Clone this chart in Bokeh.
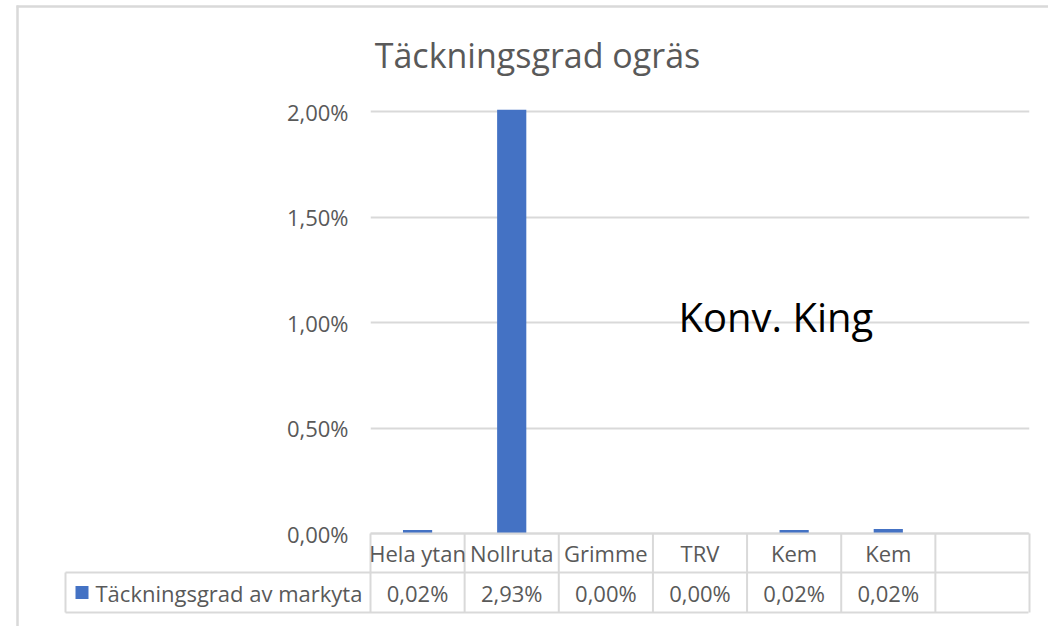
from bokeh.plotting import figure
from bokeh.models import Range1d, FixedTicker, CustomJSTickFormatter, ColumnDataSource
from bokeh.core.properties import value
from bokeh.embed import file_html
from bokeh.resources import INLINE

# ---- data ----
title_text = "Täckningsgrad ogräs"
series_name = "Täckningsgrad av markyta"
annotation_text = "Konv. King"
categories = ["Hela ytan", "Nollruta", "Grimme", "TRV", "Kem", "Kem"]
values = [0.00016, 0.0293, 0.0, 0.0, 0.00016, 0.00021]
y_ticks = [0.0, 0.005, 0.01, 0.015, 0.02]
n_columns = 7  # six categories + one empty column in the data table

# ---- style ----
FONT = "Open Sans"
GRAY_TEXT = "#595959"
LINE = "#d9d9d9"
BAR = "#4472C4"

W, H = 1048, 626
LEFT, TOP = 370, 109
FRAME_W, FRAME_H = 659, 426
PAD = 2  # px of frame above/below the 0..2% span
per_px = 0.02 / (FRAME_H - 2 * PAD)

p = figure(width=W, height=H, output_backend="svg", toolbar_location=None, tools="",
           title=None,
           x_range=Range1d(-0.5, n_columns - 0.5),
           y_range=Range1d(-PAD * per_px, 0.02 + PAD * per_px),
           x_axis_location=None, y_axis_location="left",
           min_border_left=LEFT, min_border_right=W - LEFT - FRAME_W,
           min_border_top=TOP, min_border_bottom=H - TOP - FRAME_H)
p.background_fill_color = "white"
p.border_fill_color = "white"
p.outline_line_color = None

# helper ranges in pixels (origin at frame left / 0% line)
p.extra_x_ranges = {"px": Range1d(0, FRAME_W)}
p.extra_y_ranges = {"px": Range1d(-PAD, FRAME_H - PAD)}

# y axis
p.yaxis.ticker = FixedTicker(ticks=y_ticks)
p.yaxis.formatter = CustomJSTickFormatter(
    code="return (tick*100).toFixed(2).replace('.', ',') + '%';")
p.yaxis.axis_line_color = None
p.yaxis.major_tick_line_color = None
p.yaxis.minor_tick_line_color = None
p.yaxis.major_label_text_font = FONT
p.yaxis.major_label_text_font_size = "22px"
p.yaxis.major_label_text_color = GRAY_TEXT
p.yaxis.major_label_standoff = 16
p.ygrid.ticker = FixedTicker(ticks=y_ticks)
p.ygrid.grid_line_color = LINE
p.ygrid.grid_line_width = 2
p.xgrid.grid_line_color = None

# bars
src = ColumnDataSource(dict(x=list(range(len(categories))), top=values))
p.vbar(x="x", top="top", width=0.31, source=src, fill_color=BAR, line_color=None)

# ---- data table under the plot ----
ROW1 = -39   # line between category row and value row
ROW2 = -79   # bottom of table
LEG_LEFT = -305
TABLE_RIGHT = 658

p.segment(x0=[0, LEG_LEFT, LEG_LEFT], x1=[TABLE_RIGHT] * 3, y0=[0, ROW1, ROW2], y1=[0, ROW1, ROW2],
          x_range_name="px", y_range_name="px", line_color=LINE, line_width=2, level="overlay")
bounds = [i - 0.5 for i in range(n_columns + 1)]
p.segment(x0=bounds, x1=bounds, y0=[0] * len(bounds), y1=[ROW2] * len(bounds),
          y_range_name="px", line_color=LINE, line_width=2, level="overlay")
p.segment(x0=[LEG_LEFT], x1=[LEG_LEFT], y0=[ROW1], y1=[ROW2],
          x_range_name="px", y_range_name="px", line_color=LINE, line_width=2, level="overlay")

p.text(x=list(range(len(categories))), y=[(0 + ROW1) / 2] * len(categories), text=categories,
       y_range_name="px", text_align="center", text_baseline="middle",
       text_font=value(FONT), text_font_size="22px", text_color=GRAY_TEXT, level="overlay")
value_labels = [f"{v * 100:.2f}".replace(".", ",") + "%" for v in values]
p.text(x=list(range(len(values))), y=[(ROW1 + ROW2) / 2] * len(values), text=value_labels,
       y_range_name="px", text_align="center", text_baseline="middle",
       text_font=value(FONT), text_font_size="22px", text_color=GRAY_TEXT, level="overlay")

# legend key in table
p.rect(x=[-288.5], y=[(ROW1 + ROW2) / 2], width=13, height=13, width_units="screen",
       height_units="screen", x_range_name="px", y_range_name="px",
       fill_color=BAR, line_color=None, level="overlay")
p.text(x=[-275], y=[(ROW1 + ROW2) / 2], text=[series_name], x_range_name="px", y_range_name="px",
       text_align="left", text_baseline="middle", text_font=value(FONT),
       text_font_size="22px", text_color=GRAY_TEXT, level="overlay")

# outer chart-area border (left and top)
p.segment(x0=[-353, -354], x1=[-353, W - LEFT], y0=[528, 527], y1=[-93, 527],
          x_range_name="px", y_range_name="px", line_color=LINE, line_width=2.5, level="overlay")

# title and annotation text
p.text(x=[167], y=[479], text=[title_text], x_range_name="px", y_range_name="px",
       text_align="center", text_baseline="alphabetic", text_font=value(FONT),
       text_font_size="34px", text_color=GRAY_TEXT, level="overlay")
p.text(x=[308], y=[217], text=[annotation_text], x_range_name="px", y_range_name="px",
       text_align="left", text_baseline="alphabetic", text_font=value(FONT),
       text_font_size="40px", text_color="black", level="overlay")

open("out.html", "w").write(file_html(p, INLINE))
